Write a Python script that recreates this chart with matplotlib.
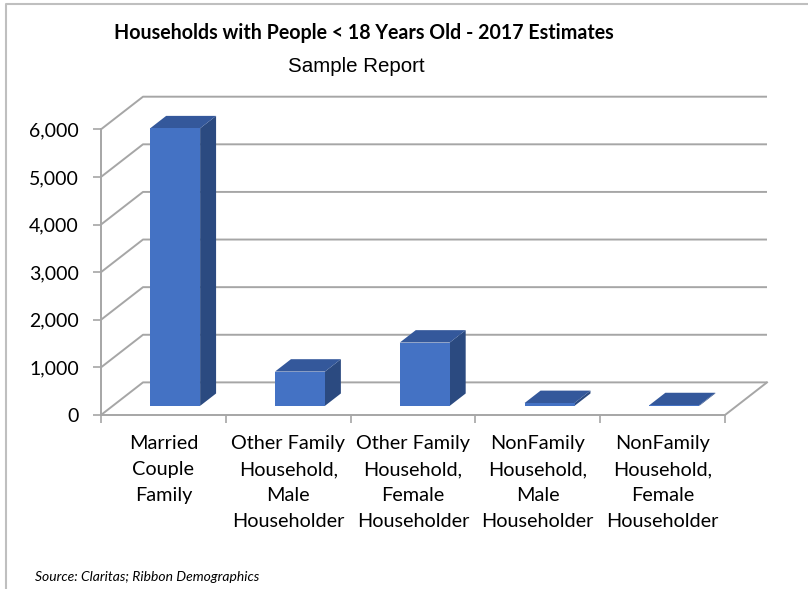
import matplotlib
matplotlib.use("Agg")
import matplotlib.pyplot as plt
from matplotlib.patches import Polygon
from matplotlib.lines import Line2D

# ---------------- data ----------------
categories = [
    "Married\nCouple\nFamily",
    "Other Family\nHousehold,\nMale\nHouseholder",
    "Other Family\nHousehold,\nFemale\nHouseholder",
    "NonFamily\nHousehold,\nMale\nHouseholder",
    "NonFamily\nHousehold,\nFemale\nHouseholder",
]
values = [5830, 720, 1330, 60, 15]
yticks = [0, 1000, 2000, 3000, 4000, 5000, 6000]
ytick_labels = ["0", "1,000", "2,000", "3,000", "4,000", "5,000", "6,000"]
title = "Households with People < 18 Years Old - 2017 Estimates"
subtitle = "Sample Report"
source = "Source: Claritas; Ribbon Demographics"

# ---------------- styling ----------------
W, H = 808, 589
GRID = "#A6A6A6"
FRONT = "#4472C4"
TOP = "#34589B"
SIDE = "#2B4A80"

fig = plt.figure(figsize=(W / 100, H / 100), dpi=100)
fig.patch.set_facecolor("white")

# oblique "3D" offsets (in data units)
DX = 0.3365      # depth shift along category axis
DY = 685         # depth shift along value axis
D0, D1 = 0.28, 0.66   # bar depth span (fraction of wall depth)
HALF = 0.2            # half bar width

left_px, right_px, bottom_px, top_px = 101, 767, 415, 96.7
ax = fig.add_axes([left_px / W, 1 - bottom_px / H,
                   (right_px - left_px) / W, (bottom_px - top_px) / H])
ax.set_xlim(-0.5, len(categories) - 0.5 + DX)
ax.set_ylim(0, yticks[-1] + DY)
ax.set_facecolor("none")

for s in ["top", "right"]:
    ax.spines[s].set_visible(False)
ax.spines["left"].set_bounds(0, yticks[-1])
ax.spines["bottom"].set_bounds(-0.5, len(categories) - 0.5)
for s in ["left", "bottom"]:
    ax.spines[s].set_color(GRID)
    ax.spines[s].set_linewidth(1.4)

ax.set_yticks(yticks, ytick_labels)
ax.tick_params(axis="y", direction="out", length=6, width=1.2, color=GRID,
               pad=10, labelsize=14, labelcolor="black")
ax.set_xticks(range(len(categories)), categories)
ax.set_xticks([i - 0.5 for i in range(len(categories) + 1)], minor=True)
ax.tick_params(axis="x", which="major", length=0, pad=14.5, labelsize=14.3)
ax.tick_params(axis="x", which="minor", direction="out", length=6, width=1.2,
               color=GRID)
for lab in ax.get_yticklabels():
    lab.set_fontfamily("Lato")
for lab in ax.get_xticklabels():
    lab.set_fontfamily("Lato")
    lab.set_linespacing(1.63)

# walls / gridlines
xl = -0.5
xr = len(categories) - 0.5
for v in yticks:
    ax.plot([xl, xl + DX, xr + DX], [v, v + DY, v + DY], color=GRID,
            lw=1.4, clip_on=False, zorder=1, solid_capstyle="butt")
ax.plot([xr, xr + DX], [0, DY], color=GRID, lw=1.4, clip_on=False, zorder=1)

# bars
for i, v in enumerate(values):
    fx0 = i - HALF + D0 * DX
    fx1 = i + HALF + D0 * DX
    bx0 = i - HALF + D1 * DX
    bx1 = i + HALF + D1 * DX
    fy0 = D0 * DY
    by0 = D1 * DY
    side = Polygon([(fx1, fy0), (bx1, by0), (bx1, by0 + v), (fx1, fy0 + v)],
                   closed=True, facecolor=SIDE, edgecolor="none", zorder=3)
    top = Polygon([(fx0, fy0 + v), (fx1, fy0 + v), (bx1, by0 + v), (bx0, by0 + v)],
                  closed=True, facecolor=TOP, edgecolor="none", zorder=3)
    front = Polygon([(fx0, fy0), (fx1, fy0), (fx1, fy0 + v), (fx0, fy0 + v)],
                    closed=True, facecolor=FRONT, edgecolor="none", zorder=4)
    for p in (side, top, front):
        ax.add_patch(p)

# titles
fig.text(0.5 * (115 + 612) / W, 1 - 33 / H, title, ha="center", va="center",
         fontsize=14.1, fontweight="bold", fontfamily="Lato")
fig.text(356 / W, 1 - 66 / H, subtitle, ha="center", va="center",
         fontsize=14.8, fontfamily="Liberation Sans")
fig.text(35 / W, 1 - 577 / H, source, ha="left", va="center",
         fontsize=10, fontstyle="italic", fontfamily="Lato")

# chart border (top and left visible in crop)
fig.add_artist(Line2D([6 / W, 6 / W, 1], [0, 1 - 4 / H, 1 - 4 / H],
                      transform=fig.transFigure, color="#BFBFBF", lw=1.5))

fig.savefig("out.png", dpi=100, facecolor="white")
